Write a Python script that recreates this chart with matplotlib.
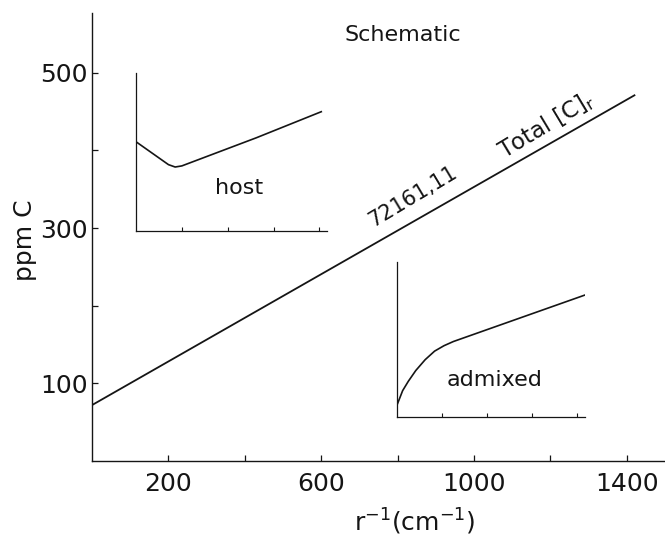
import matplotlib
matplotlib.use('Agg')
from matplotlib import pyplot as plt

plt.rcParams['font.family'] = ['DejaVu Sans']
plt.rcParams['mathtext.default'] = 'regular'

# 主图：总碳含量直线
total_x = [0, 1420]
total_y = [72, 471]
x_major = [200, 600, 1000, 1400]
x_minor = [400, 800, 1200]
y_major = [100, 300, 500]
y_minor = [200, 400]

# 插图 host（示意）
host_x = [0.0, 0.17, 0.205, 0.24, 0.63, 0.97]
host_y = [0.565, 0.42, 0.405, 0.412, 0.59, 0.755]

# 插图 admixed（示意）
mix_x = [0.0, 0.03, 0.06, 0.10, 0.15, 0.20, 0.25, 0.30, 1.0]
mix_y = [0.077, 0.17, 0.23, 0.30, 0.37, 0.425, 0.46, 0.487, 0.787]
inset_ticks = [0.24, 0.48, 0.72, 0.96]

ink = '#151515'
W, H = 665, 539

fig = plt.figure(figsize=(6.65, 5.39), dpi=100)
ax = fig.add_axes([92 / W, 1 - 461 / H, (W - 92) / W, (461 - 13) / H])
ax.plot(total_x, total_y, color=ink, lw=1.3)
ax.set_xlim(0, 1500)
ax.set_ylim(0, 577)
for s in ['top', 'right']:
    ax.spines[s].set_visible(False)
for s in ['left', 'bottom']:
    ax.spines[s].set_color(ink)
    ax.spines[s].set_linewidth(1.0)
ax.set_xticks(x_major)
ax.set_xticks(x_minor, minor=True)
ax.set_yticks(y_major)
ax.set_yticks(y_minor, minor=True)
ax.tick_params(axis='both', which='both', direction='in', length=4, width=0.9,
               color=ink, labelcolor=ink, labelsize=18)
ax.tick_params(axis='x', pad=8)
ax.tick_params(axis='y', pad=3)

ax.text(840, 341, '72161,11', rotation=31, rotation_mode='anchor',
        ha='center', va='center', fontsize=15, color=ink)
ax.text(1190, 433, 'Total [C]$_r$', rotation=31, rotation_mode='anchor',
        ha='center', va='center', fontsize=16.5, color=ink)

fig.text(403 / W, 1 - 35 / H, 'Schematic', ha='center', va='center',
         fontsize=16, color=ink)
fig.text(25 / W, 1 - 240 / H, 'ppm C', rotation=90, ha='center', va='center',
         fontsize=18, color=ink)
fig.text(415 / W, 1 - 531 / H, 'r$^{-1}$(cm$^{-1}$)', ha='center', va='baseline',
         fontsize=18, color=ink)


def inset(box, xs, ys, label, lx, ly):
    a = fig.add_axes(box)
    a.patch.set_alpha(0)
    a.plot(xs, ys, color=ink, lw=1.2)
    a.set_xlim(0, 1)
    a.set_ylim(0, 1)
    for s in ['top', 'right']:
        a.spines[s].set_visible(False)
    for s in ['left', 'bottom']:
        a.spines[s].set_color(ink)
        a.spines[s].set_linewidth(0.9)
    a.set_xticks(inset_ticks)
    a.set_xticklabels([])
    a.set_yticks([])
    a.tick_params(axis='x', direction='in', length=3, width=0.8, color=ink)
    a.text(lx, ly, label, ha='center', va='center', fontsize=16, color=ink)
    return a


inset([136 / W, 1 - 231 / H, (327 - 136) / W, (231 - 73) / H],
      host_x, host_y, 'host', 0.54, 0.27)
inset([397 / W, 1 - 417 / H, (585 - 397) / W, (417 - 262) / H],
      mix_x, mix_y, 'admixed', 0.52, 0.24)

fig.savefig('out.png', dpi=100)
